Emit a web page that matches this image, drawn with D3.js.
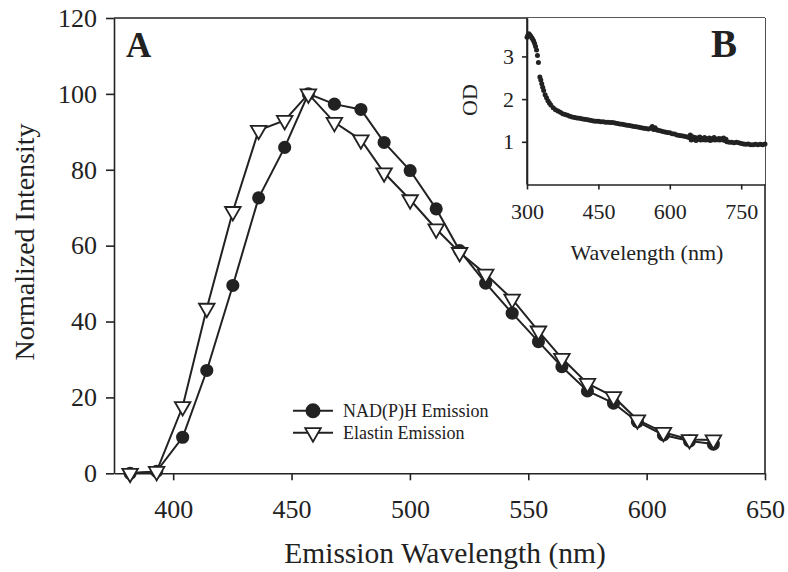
<!DOCTYPE html>
<html>
<head>
<meta charset="utf-8">
<script src="https://cdn.jsdelivr.net/npm/d3@7"></script>
<style>
  body { margin: 0; background: #fff; }
  svg { display: block; font-family: "Liberation Serif", "Times New Roman", serif; }
  .axis path, .axis line { stroke: #222; stroke-width: 1.6; }
  .axis text { fill: #222; font-family: "Liberation Serif", serif; }
</style>
</head>
<body>
<svg id="chart"></svg>
<script>
// main panel (A): emission spectra
const wavelengths = [381.8, 393, 404, 414.2, 425.2, 436.1, 447.1, 457.1, 468.1, 479.3, 489.1, 500.1,
                     511.1, 521, 532, 543.2, 554.3, 564.2, 575, 586, 596.1, 607.1, 618.1, 628.2];
const nadph = [0, 0.5, 9.5, 27.1, 49.5, 72.6, 85.9, 100, 97.3, 95.9, 87.2, 79.8,
               69.7, 58.7, 50.1, 42.2, 34.7, 28.1, 21.7, 18.5, 13.6, 10.1, 8.5, 7.7];
const elastin = [0, 0.5, 17.6, 43.5, 69, 90.4, 93, 100, 92.5, 87.9, 79.2, 72.1,
                 64.4, 58.2, 52.5, 45.9, 37.5, 30.3, 23.7, 20.2, 14.1, 10.8, 8.9, 8.8];
const xTicks = [400, 450, 500, 550, 600, 650];
const yTicks = [0, 20, 40, 60, 80, 100, 120];

// inset (B): optical density
const odWl = [300, 302, 304, 306, 308, 310, 312, 314, 316, 318, 320, 322, 324,
  327, 329, 331, 333, 335, 338, 341, 344, 347, 350, 355, 360, 365, 370, 375, 380, 385, 390, 395,
  400, 405, 410, 415, 420, 425, 430, 435, 440, 445, 450, 455, 460, 465, 470, 475, 480, 485, 490, 495,
  500, 505, 510, 515, 520, 525, 530, 535, 540, 545, 550, 555, 560, 563, 566, 569, 572, 575, 580, 585,
  590, 595, 600, 605, 610, 615, 620, 625, 630, 635, 640, 643, 645, 648, 650, 653, 655, 658, 660, 663,
  665, 668, 670, 673, 675, 678, 680, 683, 685, 688, 690, 693, 695, 698, 700, 703, 705, 708, 710, 713,
  715, 718, 720, 725, 730, 735, 740, 745, 750, 755, 760, 765, 770, 775, 780, 785, 790, 795, 800];
const odVal = [3.45, 3.50, 3.53, 3.50, 3.47, 3.44, 3.40, 3.36, 3.30, 3.23, 3.15, 3.02, 2.86,
  2.52, 2.45, 2.36, 2.28, 2.20, 2.10, 2.03, 1.96, 1.91, 1.86, 1.80, 1.75, 1.72, 1.69, 1.66, 1.64, 1.62, 1.60, 1.58,
  1.57, 1.56, 1.55, 1.54, 1.53, 1.52, 1.51, 1.50, 1.49, 1.48, 1.48, 1.47, 1.47, 1.46, 1.46, 1.45, 1.45, 1.44, 1.43, 1.42,
  1.41, 1.40, 1.39, 1.38, 1.37, 1.36, 1.35, 1.34, 1.33, 1.32, 1.31, 1.30, 1.32, 1.36, 1.29, 1.33, 1.28, 1.27, 1.26, 1.24,
  1.23, 1.22, 1.21, 1.19, 1.18, 1.16, 1.15, 1.14, 1.13, 1.12, 1.10, 1.16, 1.04, 1.12, 1.06, 1.10, 1.03, 1.09, 1.06, 1.11,
  1.04, 1.08, 1.05, 1.10, 1.04, 1.07, 1.05, 1.09, 1.03, 1.07, 1.05, 1.10, 1.04, 1.06, 1.05, 1.08, 1.04, 1.07, 1.05, 1.09,
  1.03, 1.06, 1.00, 0.99, 0.99, 0.98, 0.99, 0.98, 0.96, 0.95, 0.94, 0.95, 0.93, 0.93, 0.94, 0.93, 0.94, 0.93, 0.95];
const odXTicks = [300, 450, 600, 750];
const odYTicks = [1, 2, 3];

const W = 788, H = 572;
const ink = '#222';
const svg = d3.select('#chart').attr('width', W).attr('height', H);

const mLeft = 114, mRight = 765, mTop = 18, mBottom = 473.3;
const x = d3.scaleLinear().domain([375, 650]).range([mLeft, mRight]);
const y = d3.scaleLinear().domain([0, 120]).range([mBottom, mTop]);

// frame top / right
svg.append('line').attr('x1', mLeft).attr('x2', mRight).attr('y1', mTop).attr('y2', mTop)
  .attr('stroke', ink).attr('stroke-width', 1.6);
svg.append('line').attr('x1', mRight).attr('x2', mRight).attr('y1', mTop).attr('y2', mBottom)
  .attr('stroke', ink).attr('stroke-width', 1.6);

svg.append('g').attr('class', 'axis')
  .attr('transform', `translate(${mLeft},0)`)
  .call(d3.axisLeft(y).tickValues(yTicks).tickSize(8).tickSizeOuter(0).tickPadding(9))
  .selectAll('text').style('font-size', '26px');

svg.append('g').attr('class', 'axis')
  .attr('transform', `translate(0,${mBottom})`)
  .call(d3.axisBottom(x).tickValues(xTicks).tickSize(7).tickSizeOuter(0).tickPadding(19))
  .selectAll('text').style('font-size', '26px');

svg.append('text').attr('x', 445).attr('y', 563).attr('text-anchor', 'middle')
  .style('font-size', '29.5px').attr('fill', ink).text('Emission Wavelength (nm)');
svg.append('text').attr('transform', 'translate(34,242) rotate(-90)').attr('text-anchor', 'middle')
  .style('font-size', '28px').attr('fill', ink).text('Normalized Intensity');

svg.append('text').attr('x', 126).attr('y', 57).style('font-size', '35px').style('font-weight', 'bold')
  .attr('fill', ink).text('A');

const lineGen = vals => d3.line().x((d, i) => x(wavelengths[i])).y(d => y(d))(vals);
const circle = d3.symbol().type(d3.symbolCircle).size(135);
const tri = d3.symbol().type(d3.symbolTriangle).size(105);

svg.append('path').attr('d', lineGen(nadph)).attr('fill', 'none').attr('stroke', ink).attr('stroke-width', 2);
svg.append('g').selectAll('path').data(nadph).enter().append('path')
  .attr('d', circle).attr('transform', (d, i) => `translate(${x(wavelengths[i])},${y(d)})`)
  .attr('fill', ink);

svg.append('path').attr('d', lineGen(elastin)).attr('fill', 'none').attr('stroke', ink).attr('stroke-width', 2);
svg.append('g').selectAll('path').data(elastin).enter().append('path')
  .attr('d', tri).attr('transform', (d, i) => `translate(${x(wavelengths[i])},${y(d)}) rotate(180)`)
  .attr('fill', '#fff').attr('stroke', ink).attr('stroke-width', 1.8);

// legend
const legendItems = [{ label: 'NAD(P)H Emission', sym: circle, fill: ink, rot: 0 },
                     { label: 'Elastin Emission', sym: tri, fill: '#fff', rot: 180 }];
const legend = svg.selectAll('.legend').data(legendItems).enter().append('g')
  .attr('class', 'legend').attr('transform', (d, i) => `translate(0,${410.7 + i * 22})`);
legend.append('line').attr('x1', 293).attr('x2', 333).attr('stroke', ink).attr('stroke-width', 2);
legend.append('path').attr('d', d => d.sym()).attr('transform', d => `translate(313,0) rotate(${d.rot})`)
  .attr('fill', d => d.fill).attr('stroke', ink).attr('stroke-width', 1.8);
legend.append('text').attr('x', 343).attr('y', 6).style('font-size', '18px').attr('fill', ink)
  .text(d => d.label);

// inset B
const iLeft = 527, iBottom = 184.5;
const xi = d3.scaleLinear().domain([300, 800]).range([iLeft, mRight]);
const yi = d3.scaleLinear().domain([0, 3.9]).range([iBottom, mTop]);

svg.append('rect').attr('x', iLeft).attr('y', mTop).attr('width', mRight - iLeft).attr('height', iBottom - mTop)
  .attr('fill', '#fff');
svg.append('g').attr('class', 'axis')
  .attr('transform', `translate(${iLeft},0)`)
  .call(d3.axisLeft(yi).tickValues(odYTicks).tickFormat(d3.format('d')).tickSize(5).tickSizeOuter(0).tickPadding(8))
  .selectAll('text').style('font-size', '22px');
svg.append('g').attr('class', 'axis')
  .attr('transform', `translate(0,${iBottom})`)
  .call(d3.axisBottom(xi).tickValues(odXTicks).tickSize(5).tickSizeOuter(0).tickPadding(14))
  .selectAll('text').style('font-size', '22px');
svg.append('line').attr('x1', iLeft).attr('x2', iLeft).attr('y1', mTop).attr('y2', yi(0))
  .attr('stroke', ink).attr('stroke-width', 1.6);

svg.append('g').selectAll('circle').data(odVal).enter().append('circle')
  .attr('cx', (d, i) => xi(odWl[i])).attr('cy', d => yi(d)).attr('r', 2.5).attr('fill', ink);

svg.append('text').attr('transform', 'translate(477,100) rotate(-90)').attr('text-anchor', 'middle')
  .style('font-size', '22px').attr('fill', ink).text('OD');
svg.append('text').attr('x', 647).attr('y', 260).attr('text-anchor', 'middle')
  .style('font-size', '22px').attr('fill', ink).text('Wavelength (nm)');
svg.append('text').attr('x', 711).attr('y', 57).style('font-size', '39px').style('font-weight', 'bold')
  .attr('fill', ink).text('B');
</script>
</body>
</html>
